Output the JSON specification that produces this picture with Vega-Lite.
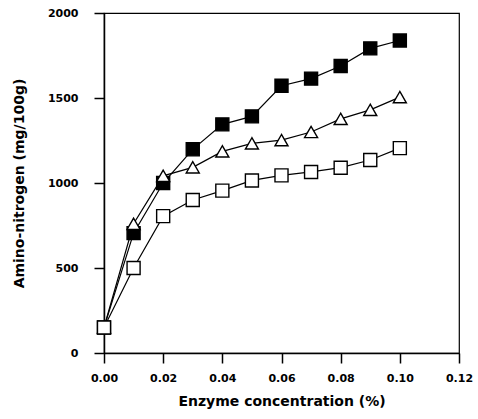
{
  "$schema": "https://vega.github.io/schema/vega-lite/v6.json",
  "autosize": "none",
  "width": 355,
  "height": 340,
  "padding": {"left": 104, "top": 13, "right": 19, "bottom": 66},
  "background": "white",
  "config": {
    "view": {"stroke": "black", "strokeWidth": 1.2},
    "font": "DejaVu Sans",
    "axis": {
      "grid": false,
      "domainColor": "black",
      "domainWidth": 1.5,
      "tickColor": "black",
      "tickWidth": 1.5,
      "tickSize": 10,
      "labelFlush": false,
      "labelFont": "DejaVu Sans",
      "labelFontWeight": "bold",
      "labelFontSize": 11,
      "labelColor": "black",
      "titleFont": "DejaVu Sans",
      "titleFontWeight": "bold",
      "titleFontSize": 14,
      "titleColor": "black"
    }
  },
  "data": {
    "values": [
      {"x": 0.00, "y": 150, "series": "filled"},
      {"x": 0.01, "y": 705, "series": "filled"},
      {"x": 0.02, "y": 1000, "series": "filled"},
      {"x": 0.03, "y": 1198, "series": "filled"},
      {"x": 0.04, "y": 1345, "series": "filled"},
      {"x": 0.05, "y": 1392, "series": "filled"},
      {"x": 0.06, "y": 1572, "series": "filled"},
      {"x": 0.07, "y": 1614, "series": "filled"},
      {"x": 0.08, "y": 1688, "series": "filled"},
      {"x": 0.09, "y": 1792, "series": "filled"},
      {"x": 0.10, "y": 1838, "series": "filled"},
      {"x": 0.00, "y": 150, "series": "triangle"},
      {"x": 0.01, "y": 760, "series": "triangle"},
      {"x": 0.02, "y": 1042, "series": "triangle"},
      {"x": 0.03, "y": 1092, "series": "triangle"},
      {"x": 0.04, "y": 1186, "series": "triangle"},
      {"x": 0.05, "y": 1233, "series": "triangle"},
      {"x": 0.06, "y": 1252, "series": "triangle"},
      {"x": 0.07, "y": 1300, "series": "triangle"},
      {"x": 0.08, "y": 1377, "series": "triangle"},
      {"x": 0.09, "y": 1430, "series": "triangle"},
      {"x": 0.10, "y": 1505, "series": "triangle"},
      {"x": 0.00, "y": 150, "series": "open"},
      {"x": 0.01, "y": 500, "series": "open"},
      {"x": 0.02, "y": 805, "series": "open"},
      {"x": 0.03, "y": 900, "series": "open"},
      {"x": 0.04, "y": 955, "series": "open"},
      {"x": 0.05, "y": 1015, "series": "open"},
      {"x": 0.06, "y": 1045, "series": "open"},
      {"x": 0.07, "y": 1065, "series": "open"},
      {"x": 0.08, "y": 1090, "series": "open"},
      {"x": 0.09, "y": 1135, "series": "open"},
      {"x": 0.10, "y": 1205, "series": "open"}
    ]
  },
  "encoding": {
    "x": {
      "field": "x",
      "type": "quantitative",
      "scale": {"domain": [0, 0.12], "nice": false},
      "axis": {"values": [0, 0.02, 0.04, 0.06, 0.08, 0.1, 0.12], "format": ".2f", "title": "Enzyme concentration (%)", "labelPadding": 9, "titlePadding": 11}
    },
    "y": {
      "field": "y",
      "type": "quantitative",
      "scale": {"domain": [0, 2000], "nice": false},
      "axis": {"values": [0, 500, 1000, 1500, 2000], "format": "d", "title": "Amino-nitrogen (mg/100g)", "labelPadding": 16, "titlePadding": 21}
    }
  },
  "layer": [
    {
      "mark": {"type": "line", "color": "black", "strokeWidth": 1.2},
      "encoding": {"detail": {"field": "series"}}
    },
    {
      "mark": {"type": "point", "stroke": "black", "strokeWidth": 1.4, "opacity": 1, "filled": false},
      "encoding": {
        "shape": {
          "field": "series",
          "type": "nominal",
          "scale": {"domain": ["filled", "triangle", "open"], "range": ["square", "triangle-up", "square"]},
          "legend": null
        },
        "fill": {
          "field": "series",
          "type": "nominal",
          "scale": {"domain": ["filled", "triangle", "open"], "range": ["black", "white", "white"]},
          "legend": null
        },
        "size": {"value": 170}
      }
    }
  ]
}
